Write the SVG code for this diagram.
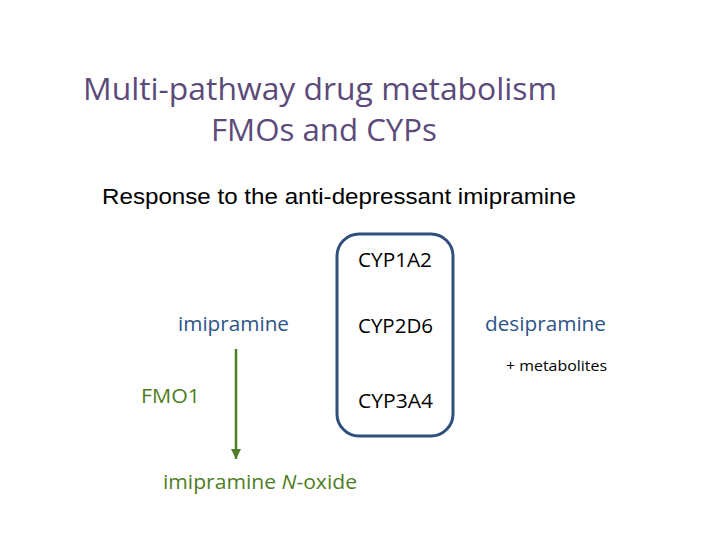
<svg xmlns="http://www.w3.org/2000/svg" width="728" height="546" viewBox="0 0 728 546">
<defs>
<style>
.t{font-family:"Open Sans","Noto Sans",sans-serif}
.title{fill:#5b4a7a;font-size:31px}
.blue{fill:#2d5587;font-size:20.5px}
.green{fill:#4f7d23;font-size:20.5px}
.cyp{fill:#000;font-size:20.5px}
</style>
<marker id="ah" viewBox="0 0 10 10" refX="10" refY="5" markerWidth="10" markerHeight="10" markerUnits="userSpaceOnUse" orient="auto">
<path d="M0,0 L10,5 L0,10 z" fill="#4f7d23"/>
</marker>
</defs>
<rect width="728" height="546" fill="#fff"/>
<g id="title">
<text class="t title" x="83" y="100" textLength="474" lengthAdjust="spacingAndGlyphs">Multi-pathway drug metabolism</text>
<text class="t title" x="211" y="141" textLength="226" lengthAdjust="spacingAndGlyphs">FMOs and CYPs</text>
</g>
<text id="subtitle" x="102" y="204" font-family="Liberation Sans,Arial,sans-serif" font-size="22" textLength="474" lengthAdjust="spacingAndGlyphs">Response to the anti-depressant imipramine</text>
<g id="cyp-box">
<rect x="337" y="234" width="116" height="202" rx="22" fill="none" stroke="#2f4f7c" stroke-width="3"/>
<text class="t cyp" x="358" y="267" textLength="74" lengthAdjust="spacingAndGlyphs">CYP1A2</text>
<text class="t cyp" x="358" y="333" textLength="75" lengthAdjust="spacingAndGlyphs">CYP2D6</text>
<text class="t cyp" x="358" y="408" textLength="75" lengthAdjust="spacingAndGlyphs">CYP3A4</text>
</g>
<g id="imipramine"><text class="t blue" x="178" y="331" textLength="111" lengthAdjust="spacingAndGlyphs">imipramine</text></g>
<g id="desipramine"><text class="t blue" x="485" y="331" textLength="121" lengthAdjust="spacingAndGlyphs">desipramine</text>
<text class="t" x="506" y="371" font-size="15" textLength="101" lengthAdjust="spacingAndGlyphs">+ metabolites</text></g>
<g id="fmo1"><text class="t green" x="141" y="403" textLength="59" lengthAdjust="spacingAndGlyphs">FMO1</text></g>
<g id="noxide"><text class="t green" x="163" y="489" textLength="194" lengthAdjust="spacingAndGlyphs">imipramine <tspan font-style="italic">N</tspan>-oxide</text></g>
<g id="connectors">
<line x1="236" y1="349" x2="236" y2="459" stroke="#4f7d23" stroke-width="2.5" marker-end="url(#ah)"/>
</g>
</svg>
